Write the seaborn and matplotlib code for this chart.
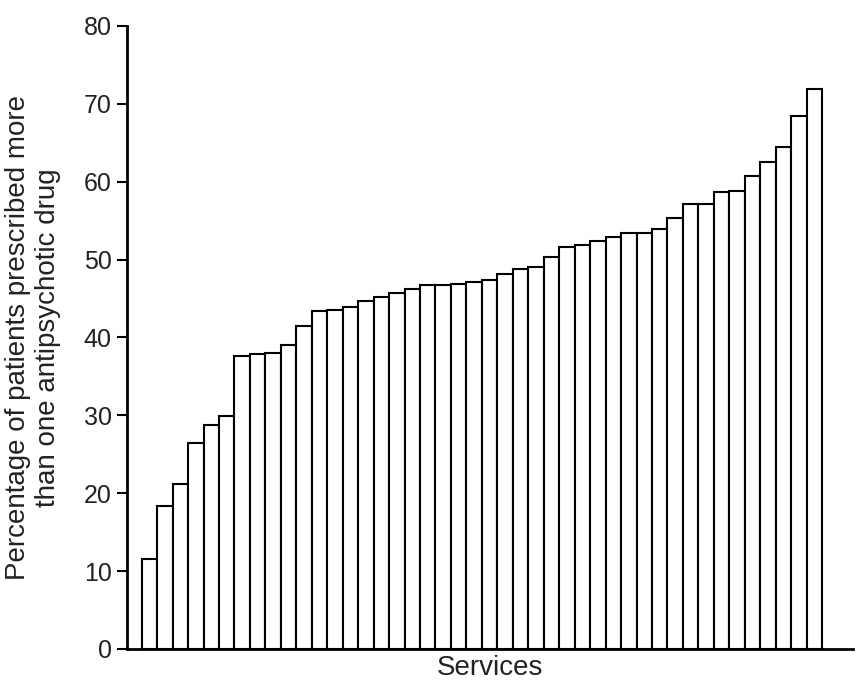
import pandas as pd
import seaborn as sns
import matplotlib.pyplot as plt

# percentage per service, sorted ascending
pct = [11.5, 18.4, 21.2, 26.4, 28.7, 29.9, 37.6, 37.9, 38.0, 39.0,
       41.5, 43.4, 43.5, 43.9, 44.7, 45.2, 45.7, 46.2, 46.7, 46.8,
       46.9, 47.1, 47.4, 48.1, 48.8, 49.1, 50.3, 51.6, 51.9, 52.4,
       52.9, 53.4, 53.4, 53.9, 55.3, 57.1, 57.1, 58.7, 58.8, 60.8,
       62.5, 64.4, 68.4, 71.9]
services = ["S%d" % (i + 1) for i in range(len(pct))]

df = pd.DataFrame({"service": services, "pct": pct})

sns.set_style("ticks")
plt.rcParams['font.family'] = ['Liberation Sans', 'DejaVu Sans']

fig = plt.figure(figsize=(8.61, 6.84), dpi=100)
ax = fig.add_axes([0.1475, 0.0512, 0.8432, 0.9108])

sns.barplot(data=df, x="service", y="pct", color="white", edgecolor="black",
            linewidth=1.5, width=1.0, saturation=1, ax=ax)

ax.set_xlim(-1.45, 45.5)
ax.set_ylim(0, 80)
ax.set_yticks(range(0, 81, 10))
ax.set_xticks([])
ax.tick_params(axis="y", labelsize=18, length=7, width=1.5, colors="black",
               labelcolor="#222222", pad=4)
for s in ["top", "right"]:
    ax.spines[s].set_visible(False)
for s in ["left", "bottom"]:
    ax.spines[s].set_linewidth(2)
    ax.spines[s].set_color("black")

ax.set_xlabel("Services", fontsize=20, labelpad=4, color="#222222")
ax.set_ylabel("Percentage of patients prescribed more\nthan one antipsychotic drug",
              fontsize=20, labelpad=16, color="#222222")

fig.savefig("out.png", dpi=100)
